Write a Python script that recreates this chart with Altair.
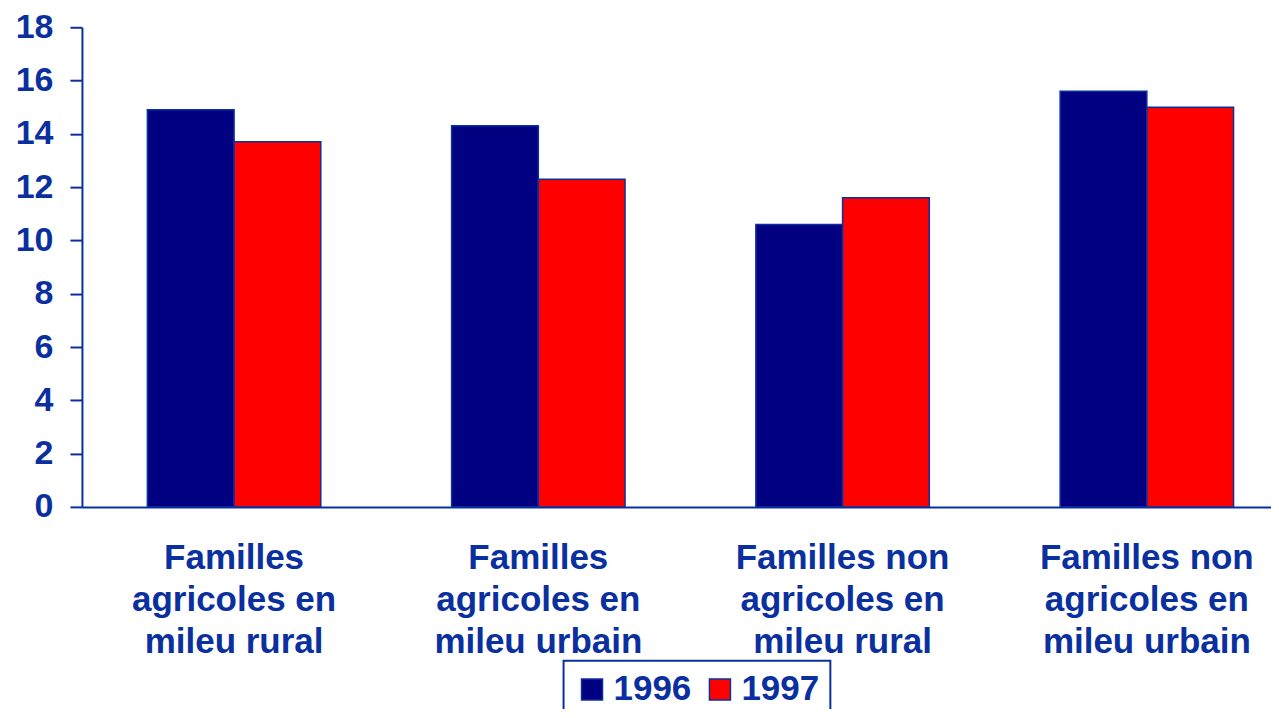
import altair as alt
import pandas as pd

categories = [
    "Familles|agricoles en|mileu rural",
    "Familles|agricoles en|mileu urbain",
    "Familles non|agricoles en|mileu rural",
    "Familles non|agricoles en|mileu urbain",
]
years = ["1996", "1997"]
values_1996 = [14.9, 14.3, 10.6, 15.6]
values_1997 = [13.7, 12.3, 11.6, 15.0]

rows = []
for c, a, b in zip(categories, values_1996, values_1997):
    rows.append({"cat": c, "year": "1996", "value": a})
    rows.append({"cat": c, "year": "1997", "value": b})
df = pd.DataFrame(rows)

BLUE = "#0A30A0"
FONT = "Liberation Sans"

chart = alt.Chart(df).mark_bar(stroke=BLUE, strokeWidth=1.5).encode(
    x=alt.X("cat:N", sort=categories, title=None,
            scale=alt.Scale(range=[0, 1218], paddingInner=0.43, paddingOuter=0.215),
            axis=alt.Axis(labelExpr="split(datum.label, '|')", labelAngle=0,
                          labelFontSize=35, labelFont=FONT, labelFontWeight="bold",
                          labelColor=BLUE, labelLineHeight=42, labelPadding=34,
                          labelLimit=400, labelOverlap=False,
                          ticks=False, domainColor=BLUE, domainWidth=2, labelBaseline="top")),
    xOffset=alt.XOffset("year:N", sort=years),
    y=alt.Y("value:Q", title=None,
            scale=alt.Scale(domain=[0, 18]),
            axis=alt.Axis(values=list(range(0, 19, 2)), grid=False,
                          labelFontSize=34, labelFont=FONT, labelFontWeight="bold",
                          labelColor=BLUE, tickColor=BLUE, tickSize=12, tickWidth=2,
                          domainColor=BLUE, domainWidth=2, labelPadding=17)),
    color=alt.Color("year:N", sort=years,
                    scale=alt.Scale(domain=years, range=["#000080", "#FF0000"]),
                    legend=alt.Legend(title=None, orient="none", direction="horizontal",
                                      legendX=482, legendY=634,
                                      labelFontSize=35, labelFont=FONT, labelFontWeight="bold",
                                      labelColor=BLUE, symbolType="square", symbolSize=441,
                                      symbolStrokeColor=BLUE, symbolStrokeWidth=1.5,
                                      strokeColor=BLUE, padding=11,
                                      columnPadding=11, labelOffset=4,
                                      fillColor="white")),
).properties(
    width=1190, height=480,
    autosize=alt.AutoSizeParams(type="none"),
    padding={"top": 19, "left": 74, "right": 0, "bottom": 202},
).configure_view(stroke=None).configure_legend(strokeWidth=2)

chart.save("out.html", embed_options={"renderer": "svg", "actions": False})
